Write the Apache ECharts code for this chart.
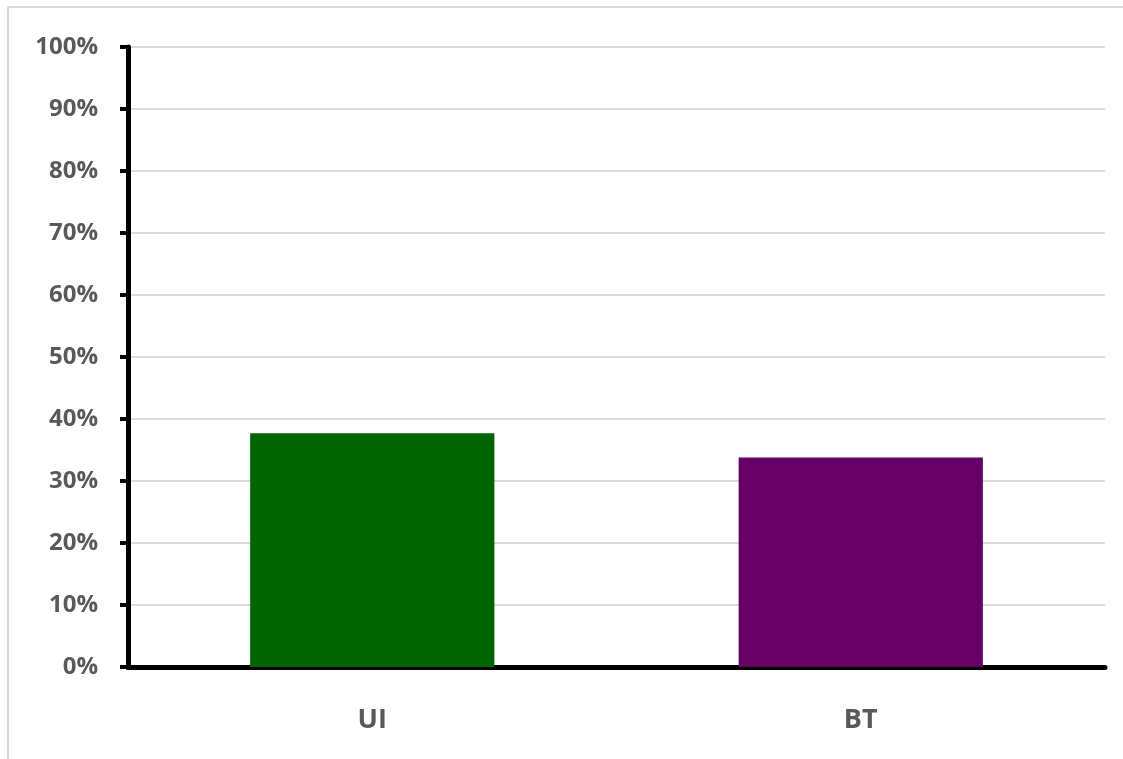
<!DOCTYPE html>
<html>
<head>
<meta charset="utf-8">
<script src="https://cdn.jsdelivr.net/npm/echarts@6/dist/echarts.min.js"></script>
<style>
  html, body { margin: 0; padding: 0; background: #ffffff; }
  #frame { position: absolute; left: 7px; top: 6px; width: 1130px; height: 770px;
           border: 2px solid #d9d9d9; box-sizing: border-box; }
  #chart { position: absolute; left: 0; top: 0; width: 1123px; height: 759px; }
</style>
</head>
<body>
<div id="frame"></div>
<div id="chart"></div>
<script>
// Share of each group, in percent
const categories = ['UI', 'BT'];
const shares = [37.7, 33.8];
const barColors = ['#006400', '#660066'];
const yTicks = { min: 0, max: 100, step: 10 };

const chart = echarts.init(document.getElementById('chart'));
chart.setOption({
  animation: false,
  grid: { left: 128, right: 18, top: 47, bottom: 92, containLabel: false },
  xAxis: {
    type: 'category',
    data: categories,
    axisLine: { show: true, lineStyle: { color: '#000000', width: 5 } },
    axisTick: { show: false },
    axisLabel: {
      margin: 40, color: '#595959', fontSize: 27, fontWeight: 'bold',
      fontFamily: 'Open Sans'
    }
  },
  yAxis: {
    type: 'value',
    min: yTicks.min, max: yTicks.max, interval: yTicks.step,
    axisLine: { show: true, lineStyle: { color: '#000000', width: 5 } },
    axisTick: { show: true, length: 8, lineStyle: { color: '#000000', width: 4 } },
    splitLine: { show: true, lineStyle: { color: '#d9d9d9', width: 2 } },
    axisLabel: {
      margin: 30, color: '#595959', fontSize: 24, fontWeight: 'bold',
      fontFamily: 'Open Sans',
      formatter: v => v + '%'
    }
  },
  series: [{
    type: 'bar',
    barWidth: '50%',
    data: shares.map((v, i) => ({ value: v, itemStyle: { color: barColors[i] } }))
  }]
});
</script>
</body>
</html>
